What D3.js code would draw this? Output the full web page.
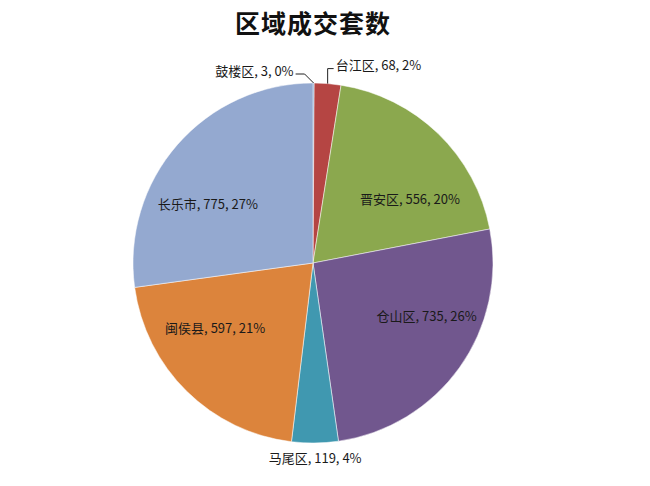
<!DOCTYPE html>
<html>
<head>
<meta charset="utf-8">
<script src="https://cdn.jsdelivr.net/npm/d3@7"></script>
<style>
	body { margin: 0; background: #fff; }
	svg { display: block; font-family: "Noto Sans CJK SC", "Noto Sans", sans-serif; }
</style>
</head>
<body>
<div id="chart"></div>
<script>
	const title = '区域成交套数';
	const districts = ['鼓楼区', '台江区', '晋安区', '仓山区', '马尾区', '闽侯县', '长乐市'];
	const counts = [3, 68, 556, 735, 119, 597, 775];
	const colors = ['#4a7ebb', '#b54543', '#8ba84e', '#71578e', '#4098b0', '#dc843c', '#94a9d0'];

	const width = 650;
	const height = 486;
	const cx = 313;
	const cy = 263;
	const radius = 180;

	const total = d3.sum(counts);

	// whole percentages that add up to 100 (largest remainder, as the spreadsheet does)
	const raw = counts.map(v => v / total * 100);
	const percents = raw.map(Math.floor);
	const left = 100 - d3.sum(percents);
	d3.range(raw.length)
		.sort((a, b) => (raw[b] - percents[b]) - (raw[a] - percents[a]))
		.slice(0, left)
		.forEach(i => { percents[i] += 1; });

	const data = districts.map((name, i) => ({ name, value: counts[i], pct: percents[i] }));

	const svg = d3.select('#chart').append('svg')
		.attr('width', width)
		.attr('height', height);

	svg.append('text')
		.attr('x', cx)
		.attr('y', 22)
		.attr('text-anchor', 'middle')
		.attr('dominant-baseline', 'central')
		.style('font-size', '25px')
		.style('font-weight', 'bold')
		.style('letter-spacing', '1px')
		.style('fill', '#111')
		.text(title);

	const chart = svg.append('g')
		.attr('transform', `translate(${cx}, ${cy})`);

	const pie = d3.pie()
		.sort(null)
		.value(d => d.value);

	const arc = d3.arc()
		.innerRadius(0)
		.outerRadius(radius);

	const arcs = pie(data);

	chart.selectAll('.slice')
		.data(arcs)
		.enter()
		.append('path')
		.attr('class', 'slice')
		.attr('d', arc)
		.style('fill', (d, i) => colors[i])
		.style('stroke', '#fff')
		.style('stroke-width', 0.5);

	const labelText = d => `${d.data.name}, ${d.data.value}, ${d.data.pct}%`;
	const mid = d => (d.startAngle + d.endAngle) / 2;
	const polar = (a, r) => [Math.sin(a) * r, -Math.cos(a) * r];

	// big slices: labels inside, on an ellipse (text is wide)
	const inside = arcs.filter(d => d.data.value / total >= 0.05);
	chart.selectAll('.label-in')
		.data(inside)
		.enter()
		.append('text')
		.attr('class', 'label-in')
		.attr('x', d => Math.sin(mid(d)) * radius * 0.775)
		.attr('y', d => -Math.cos(mid(d)) * radius * 0.5)
		.attr('text-anchor', 'middle')
		.attr('dominant-baseline', 'central')
		.style('font-size', '13px')
		.style('fill', '#1a1a1a')
		.text(labelText);

	// small slices: labels outside, with leader lines near the top
	const outside = arcs.filter(d => d.data.value / total < 0.05);
	let side = -1;
	outside.forEach(d => {
		const a = mid(d);
		const [ex, ey] = polar(a, radius);
		if (Math.cos(a) > 0.9) {
			let pts, tx, ty, anchor;
			if (side < 0) {
				const elbow = [ex - 9, ey - 9];
				pts = [[ex, ey], elbow, [elbow[0] - 9, elbow[1]]];
				tx = elbow[0] - 11; ty = elbow[1] - 4; anchor = 'end';
			} else {
				const elbow = [ex, ey - 15];
				pts = [[ex, ey], elbow, [elbow[0] + 6, elbow[1]]];
				tx = elbow[0] + 8; ty = elbow[1] - 4; anchor = 'start';
			}
			side = -side;
			chart.append('path')
				.attr('d', d3.line()(pts))
				.style('fill', 'none')
				.style('stroke', '#222')
				.style('stroke-width', 1);
			chart.append('text')
				.attr('x', tx)
				.attr('y', ty)
				.attr('text-anchor', anchor)
				.attr('dominant-baseline', 'central')
				.style('font-size', '13px')
				.style('fill', '#1a1a1a')
				.text(labelText(d));
		} else {
			const [lx, ly] = polar(a, radius + 15);
			chart.append('text')
				.attr('x', lx)
				.attr('y', ly)
				.attr('text-anchor', 'middle')
				.attr('dominant-baseline', 'central')
				.style('font-size', '13px')
				.style('fill', '#1a1a1a')
				.text(labelText(d));
		}
	});
</script>
</body>
</html>
